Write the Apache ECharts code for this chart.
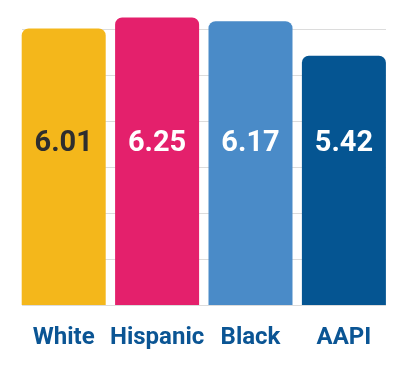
<!DOCTYPE html>
<html>
<head>
<meta charset="utf-8">
<script src="https://cdn.jsdelivr.net/npm/echarts@6/dist/echarts.min.js"></script>
<style>html,body{margin:0;padding:0;background:#fff;}#c{width:408px;height:368px;}</style>
</head>
<body>
<div id="c"></div>
<script>
const categories = ['White', 'Hispanic', 'Black', 'AAPI'];
const values = [6.01, 6.25, 6.17, 5.42];
const yTicks = [0, 1, 2, 3, 4, 5, 6];

const barColors = ['#F4B71B', '#E4206C', '#4A8BC8', '#055592'];
const labelColors = ['#2E2E2E', '#FFFFFF', '#FFFFFF', '#FFFFFF'];

const chart = echarts.init(document.getElementById('c'), null, {renderer: 'canvas'});
chart.setOption({
  animation: false,
  grid: [
    {left: 17, right: 17.4, top: 29, bottom: 63},
    {left: 22, right: 22, top: 29, bottom: 63}
  ],
  xAxis: [
    {
      type: 'category', gridIndex: 0, data: categories,
      axisLine: {show: false}, axisTick: {show: false},
      axisLabel: {
        interval: 0, hideOverlap: false,
        margin: 21, fontFamily: 'Roboto', fontWeight: 'bold', fontSize: 24,
        color: '#0B5594'
      }
    },
    {type: 'value', gridIndex: 1, show: false}
  ],
  yAxis: [
    {type: 'value', gridIndex: 0, min: yTicks[0], max: yTicks[yTicks.length - 1], interval: 1, show: false},
    {
      type: 'value', gridIndex: 1, min: yTicks[0], max: yTicks[yTicks.length - 1], interval: 1,
      axisLine: {show: false}, axisTick: {show: false}, axisLabel: {show: false},
      splitLine: {show: true, lineStyle: {color: '#DCDCDC', width: 1}}
    }
  ],
  series: [{
    type: 'bar',
    xAxisIndex: 0, yAxisIndex: 0,
    barWidth: 84,
    clip: false,
    data: values.map((v, i) => ({
      value: v,
      itemStyle: {color: barColors[i], borderRadius: [7, 7, 0, 0]},
      label: {color: labelColors[i]}
    })),
    label: {
      show: true,
      position: 'insideBottom',
      distance: 146,
      fontFamily: 'Roboto', fontWeight: 'bold', fontSize: 29, lineHeight: 30,
      formatter: p => p.value.toFixed(2)
    }
  }]
});
</script>
</body>
</html>
